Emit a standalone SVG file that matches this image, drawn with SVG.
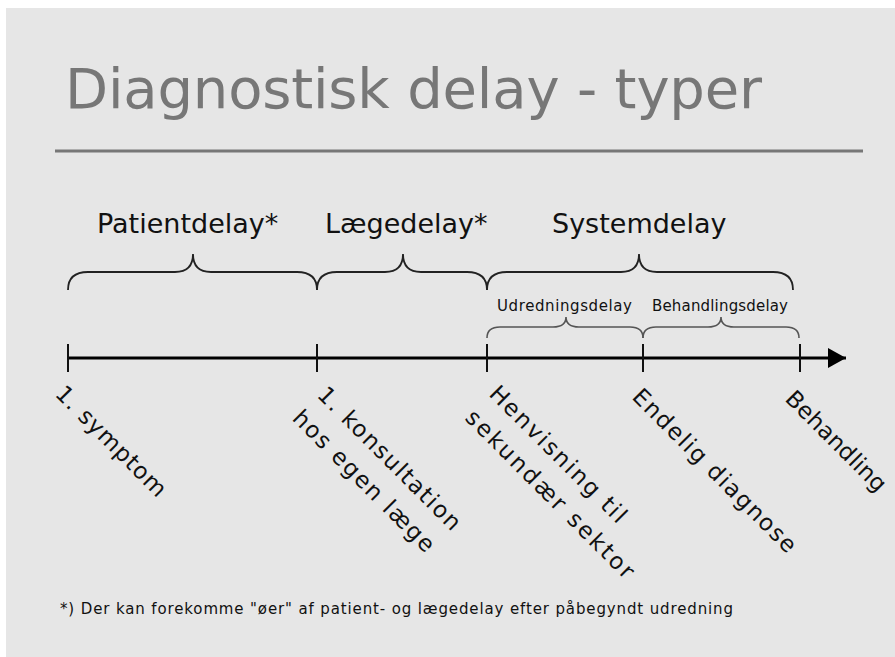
<svg xmlns="http://www.w3.org/2000/svg" width="895" height="657" viewBox="0 0 895 657">
<style>
text{font-family:"DejaVu Sans","Liberation Sans",sans-serif;fill:#111}
.title{font-size:56px;fill:#777}
.head{font-size:27px}
.sub{font-size:15px}
.tl{font-size:23px}
.foot{font-size:15px}
.big{fill:none;stroke:#222;stroke-width:1.8}
.small{fill:none;stroke:#555;stroke-width:1.6}
.tick{stroke:#111;stroke-width:2}
</style>
<defs>
<marker id="arr" markerWidth="20" markerHeight="20" refX="18" refY="10" orient="auto" markerUnits="userSpaceOnUse">
<path d="M0,0 L18,10 L0,20 Z" fill="#000"/>
</marker>
</defs>
<rect x="0" y="0" width="895" height="657" fill="#fff"/>
<rect x="6" y="8" width="889" height="649" fill="#e6e6e6"/>
<g id="title">
<text class="title" x="65" y="108" textLength="697">Diagnostisk delay - typer</text>
<line x1="55" y1="151" x2="863" y2="151" stroke="#777" stroke-width="3"/>
</g>
<g id="connectors">
<line x1="68" y1="358" x2="846" y2="358" stroke="#000" stroke-width="3" marker-end="url(#arr)"/>
<line class="tick" x1="68" y1="344" x2="68" y2="372"/>
<line class="tick" x1="317" y1="344" x2="317" y2="372"/>
<line class="tick" x1="487" y1="344" x2="487" y2="372"/>
<line class="tick" x1="643" y1="344" x2="643" y2="372"/>
<line class="tick" x1="800" y1="344" x2="800" y2="372"/>
<path class="big" d="M68,290 Q68,272 88,272 H175 Q193,272 193,254 Q193,272 211,272 H297 Q317,272 317,290"/>
<path class="big" d="M317,290 Q317,272 337,272 H385 Q403,272 403,254 Q403,272 421,272 H467 Q487,272 487,290"/>
<path class="big" d="M487,290 Q487,272 507,272 H621 Q639,272 639,254 Q639,272 657,272 H773 Q793,272 793,290"/>
<path class="small" d="M487,338 Q487,327 500,327 H553 Q566,327 566,317 Q566,327 579,327 H630 Q643,327 643,338"/>
<path class="small" d="M643,338 Q643,327 656,327 H708 Q721,327 721,317 Q721,327 734,327 H786 Q799,327 799,338"/>
</g>
<g id="patientdelay"><text class="head" x="97" y="233">Patientdelay*</text></g>
<g id="laegedelay"><text class="head" x="325" y="233">Lægedelay*</text></g>
<g id="systemdelay"><text class="head" x="552" y="233">Systemdelay</text></g>
<g id="udredningsdelay"><text class="sub" x="497" y="311" textLength="135">Udredningsdelay</text></g>
<g id="behandlingsdelay"><text class="sub" x="652" y="311" textLength="136">Behandlingsdelay</text></g>
<g id="symptom" transform="translate(54,395) rotate(45)"><text class="tl" x="0" y="0" textLength="146">1. symptom</text></g>
<g id="konsultation" transform="translate(316,396) rotate(45)">
<text class="tl" x="0" y="0" textLength="192">1. konsultation</text>
<text class="tl" x="-1" y="34" textLength="190">hos egen læge</text>
</g>
<g id="henvisning" transform="translate(488,395) rotate(45)">
<text class="tl" x="0" y="0" textLength="183">Henvisning til</text>
<text class="tl" x="0" y="34" textLength="228">sekundær sektor</text>
</g>
<g id="endelig" transform="translate(631,398) rotate(45)"><text class="tl" x="0" y="0" textLength="221">Endelig diagnose</text></g>
<g id="behandling" transform="translate(784,400) rotate(45)"><text class="tl" x="0" y="0" textLength="132">Behandling</text></g>
<g id="footnote"><text class="foot" x="60" y="614" textLength="673">*) Der kan forekomme "øer" af patient- og lægedelay efter påbegyndt udredning</text></g>
</svg>
